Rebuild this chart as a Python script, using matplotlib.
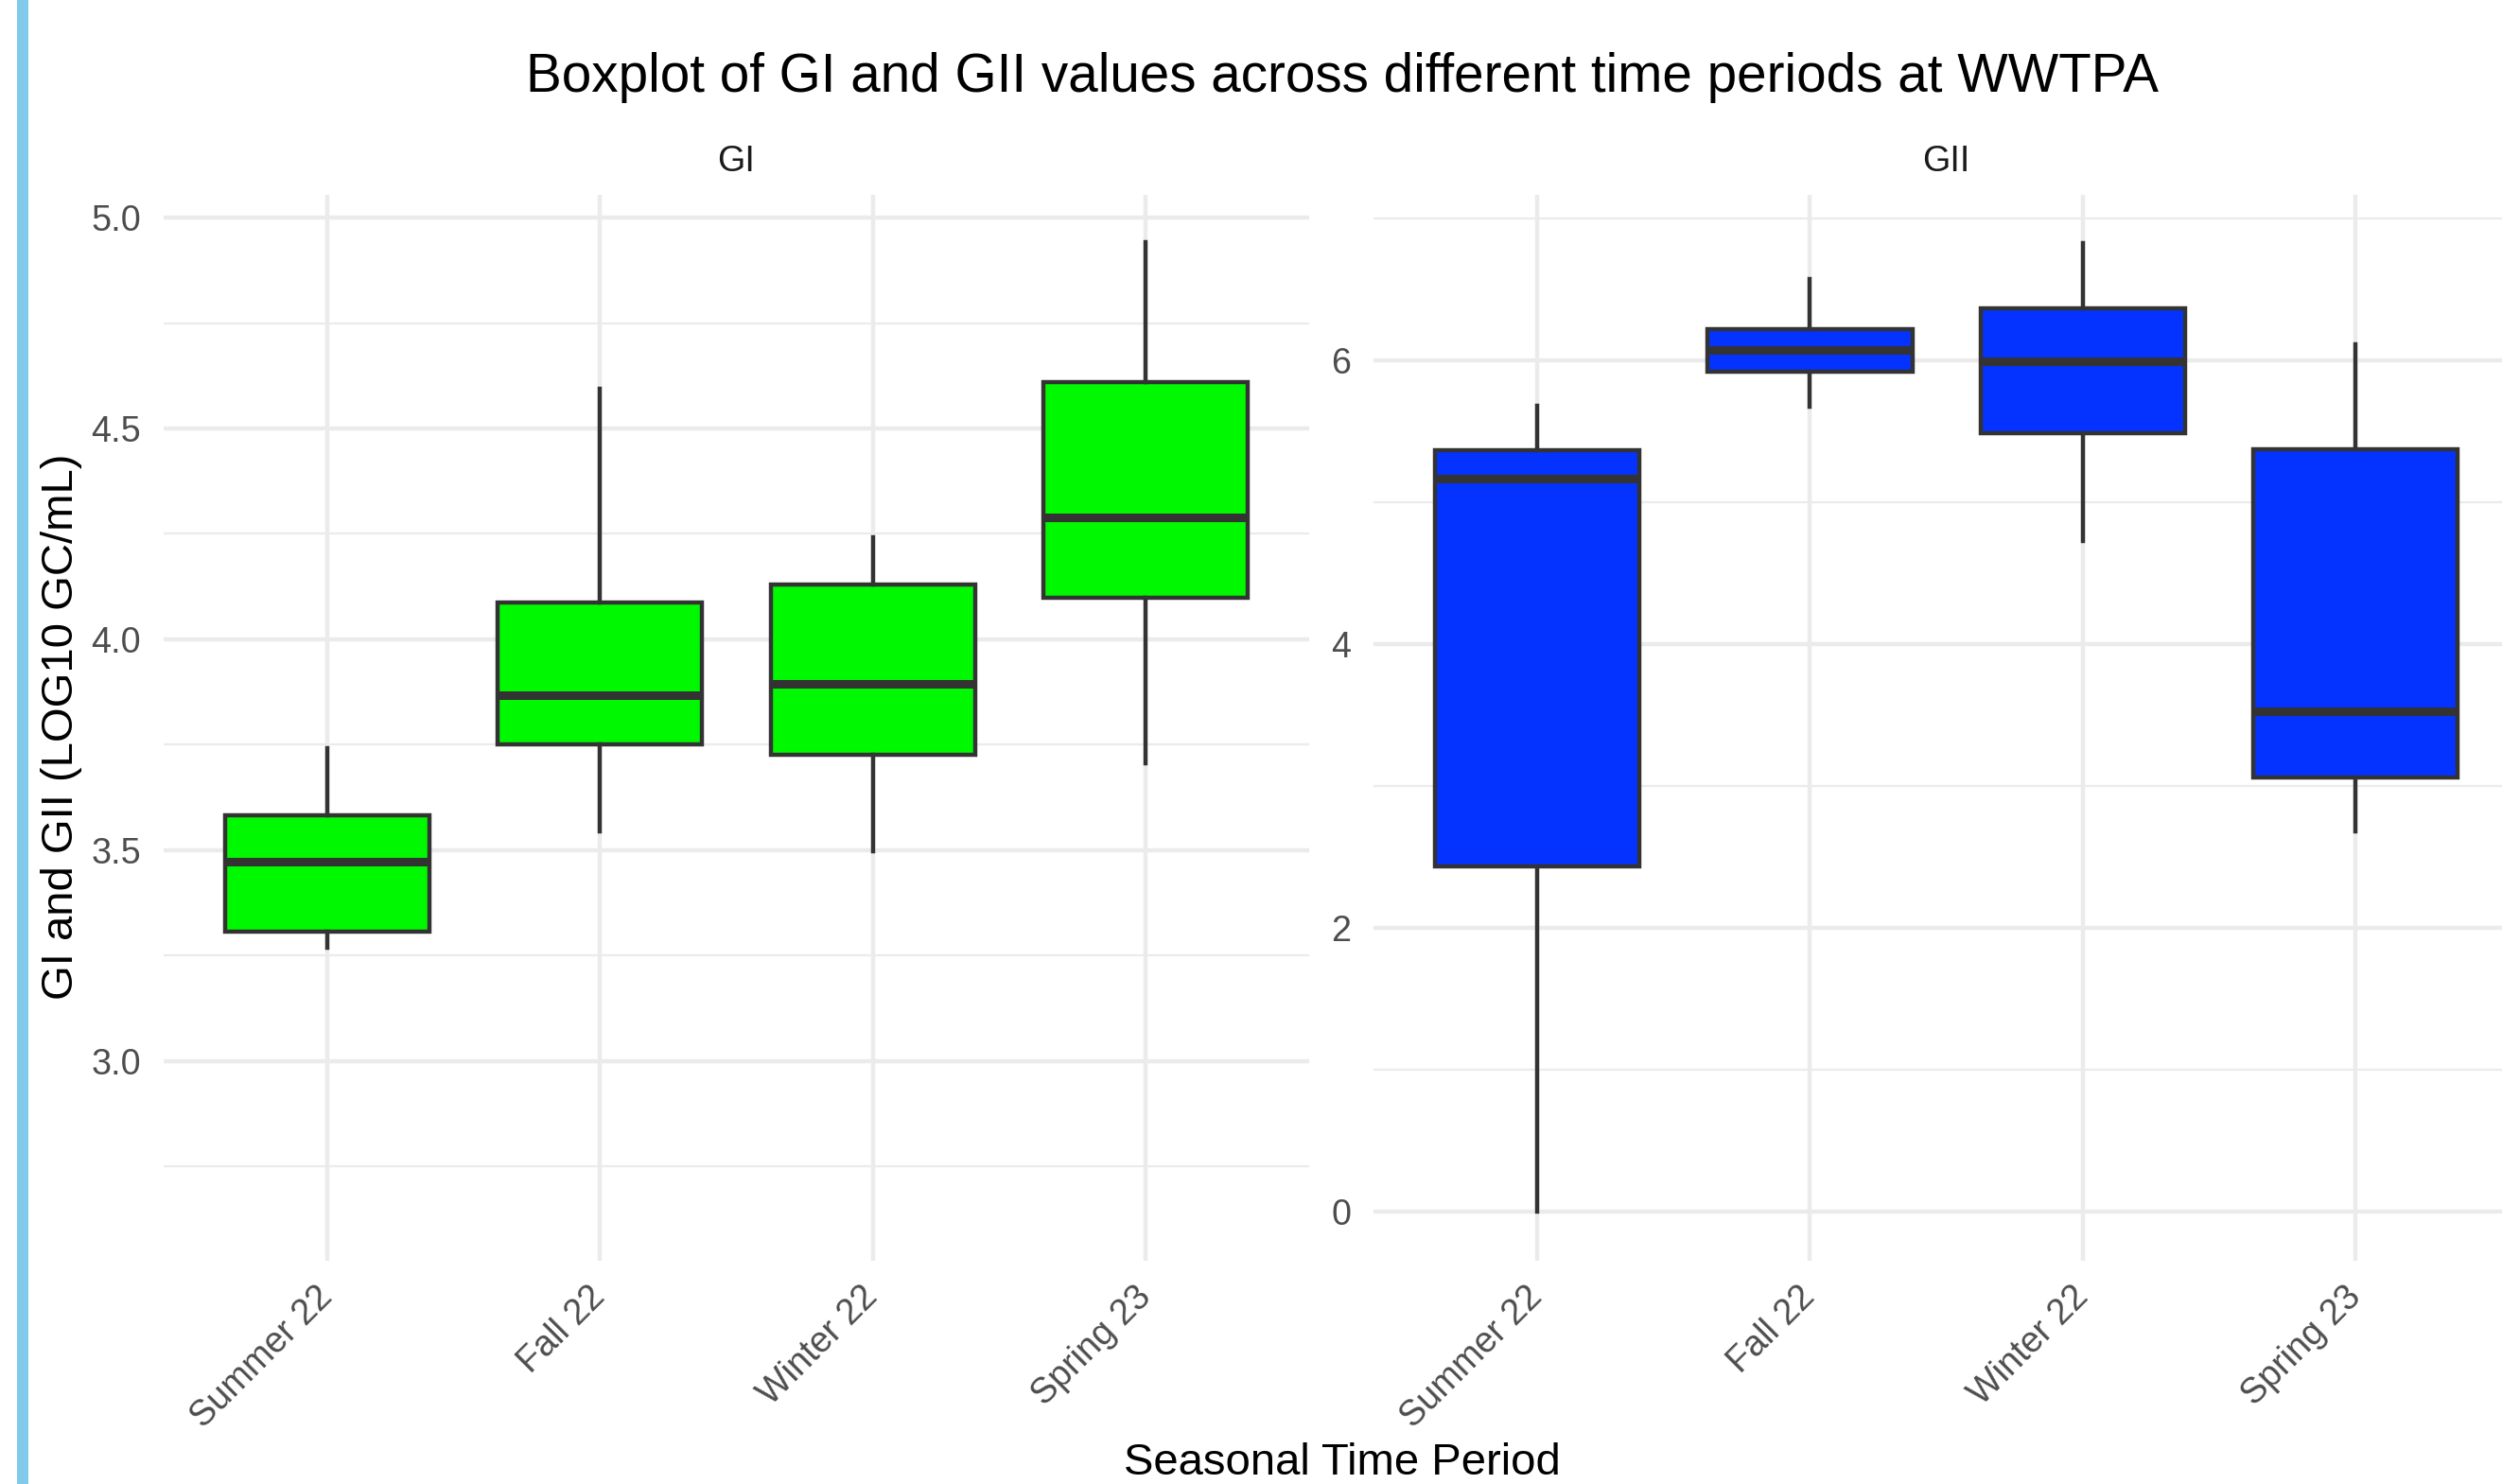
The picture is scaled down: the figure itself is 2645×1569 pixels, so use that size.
import matplotlib
matplotlib.use("Agg")
import matplotlib.pyplot as plt
from matplotlib.patches import Rectangle
from matplotlib.ticker import FixedLocator

plt.rcParams['font.family'] = ['Liberation Sans', 'DejaVu Sans']

# ---- data ----
periods = ["Summer 22", "Fall 22", "Winter 22", "Spring 23"]
panels = ["GI", "GII"]

gi_whislo = [3.269, 3.545, 3.496, 3.705]
gi_q1 = [3.307, 3.750, 3.727, 4.098]
gi_med = [3.473, 3.867, 3.894, 4.288]
gi_q3 = [3.583, 4.087, 4.129, 4.610]
gi_whishi = [3.742, 4.595, 4.242, 4.943]

gii_whislo = [0.0, 5.673, 4.727, 2.683]
gii_q1 = [2.434, 5.919, 5.486, 3.061]
gii_med = [5.167, 6.075, 5.994, 3.526]
gii_q3 = [5.367, 6.217, 6.366, 5.370]
gii_whishi = [5.680, 6.574, 6.824, 6.113]

gi_major = [3.0, 3.5, 4.0, 4.5, 5.0]
gi_minor = [2.75, 3.25, 3.75, 4.25, 4.75]
gii_major = [0, 2, 4, 6]
gii_minor = [1, 3, 5, 7]

title = "Boxplot of GI and GII values across different time periods at WWTPA"
xlabel = "Seasonal Time Period"
ylabel = "GI and GII (LOG10 GC/mL)"

# ---- style ----
W, H = 2645, 1569
fig = plt.figure(figsize=(W / 100, H / 100), dpi=100)
fig.patch.set_facecolor('white')

base = 34
tick_fs = base * 0.8
grid_col = '#EBEBEB'
edge_col = '#333333'

# blue stripe on the left edge
fig.patches.append(Rectangle((18 / W, 0), 12 / W, 1, transform=fig.transFigure,
                             facecolor='#82CAEC', edgecolor='none'))

ax_w = (820.6 - 102.4) / 1568
ax_b = 1 - 790 / 930
ax_h = (790 - 122) / 930
ax1 = fig.add_axes([102.4 / 1568, ax_b, ax_w, ax_h])
ax2 = fig.add_axes([860.7 / 1568, ax_b, ax_w, ax_h])


def make_stats(lo, q1, med, q3, hi):
    return [dict(whislo=a, q1=b, med=c, q3=d, whishi=e, fliers=[])
            for a, b, c, d, e in zip(lo, q1, med, q3, hi)]


def draw(ax, stats, color, major, minor, ylim, strip):
    pos = list(range(1, len(periods) + 1))
    ax.bxp(stats, positions=pos, widths=0.75, patch_artist=True, showcaps=False,
           showfliers=False,
           boxprops=dict(facecolor=color, edgecolor=edge_col, linewidth=3.2),
           whiskerprops=dict(color=edge_col, linewidth=3.2),
           medianprops=dict(color=edge_col, linewidth=6.5, solid_capstyle='butt'),
           zorder=3)
    ax.set_xlim(0.4, 4.6)
    ax.set_ylim(*ylim)
    ax.set_xticks(pos)
    ax.set_xticklabels(periods, rotation=45, ha='right', va='center',
                       rotation_mode='anchor', fontsize=tick_fs, color='#4D4D4D')
    ax.yaxis.set_major_locator(FixedLocator(major))
    ax.yaxis.set_minor_locator(FixedLocator(minor))
    ax.set_yticklabels([f"{v:.1f}" if isinstance(v, float) else str(v) for v in major],
                       fontsize=tick_fs, color='#4D4D4D')
    ax.tick_params(axis='both', which='both', length=0)
    ax.tick_params(axis='y', pad=17)
    ax.tick_params(axis='x', pad=24)
    ax.grid(True, which='major', axis='both', color=grid_col, linewidth=3.2)
    ax.grid(True, which='minor', axis='y', color=grid_col, linewidth=1.6)
    ax.set_axisbelow(True)
    for s in ax.spines.values():
        s.set_visible(False)
    ax.set_facecolor('white')
    ax.text(0.5, 1 + (122 - 107.5) / 668, strip, transform=ax.transAxes,
            ha='center', va='baseline', fontsize=tick_fs, color='#1A1A1A')


draw(ax1, make_stats(gi_whislo, gi_q1, gi_med, gi_q3, gi_whishi), '#00F900',
     gi_major, gi_minor, (2.526, 5.0545), panels[0])
draw(ax2, make_stats(gii_whislo, gii_q1, gii_med, gii_q3, gii_whishi), '#0433FF',
     gii_major, gii_minor, (-0.344, 7.167), panels[1])

cx = 841 / 1568
fig.text(cx, 1 - 97 / H, title, ha='center', va='baseline', fontsize=base * 1.2,
         color='black')
fig.text(cx, 1 - 1559 / H, xlabel, ha='center', va='baseline', fontsize=base,
         color='black')
fig.text(76.6 / W, 1 - 455.5 / 930, ylabel, rotation=90, rotation_mode='anchor',
         ha='center', va='baseline', fontsize=base, color='black')

fig.savefig('out.png', dpi=100, facecolor='white')
